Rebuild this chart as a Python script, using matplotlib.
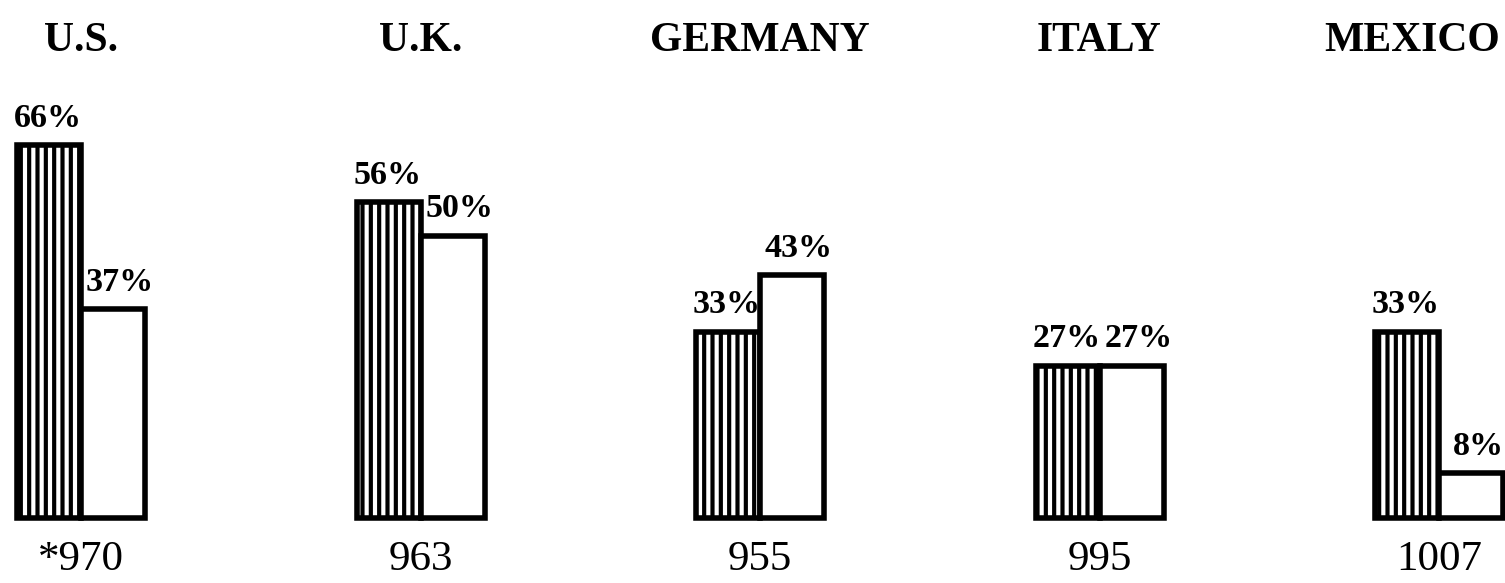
import matplotlib
matplotlib.use("Agg")
import matplotlib.pyplot as plt

# data
countries = ["U.S.", "U.K.", "GERMANY", "ITALY", "MEXICO"]
hatched_pct = [66, 56, 33, 27, 33]
white_pct = [37, 50, 43, 27, 8]
sample_sizes = ["*970", "963", "955", "995", "1007"]

plt.rcParams["hatch.linewidth"] = 3.0
plt.rcParams["font.family"] = ["Liberation Serif", "DejaVu Serif"]

fig = plt.figure(figsize=(15.05, 5.83), dpi=100)
ax = fig.add_axes([0, 0, 1, 1])
ax.set_xlim(0, 1505)
ax.set_ylim(-11.5, 91.7)
ax.axis("off")

step = 339.5
width = 64
left0 = 17
xs_h = [left0 + width / 2 + step * i for i in range(len(countries))]
xs_w = [x + width for x in xs_h]

ax.bar(xs_h, hatched_pct, width=width, facecolor="white", edgecolor="black",
       linewidth=4, hatch="||", joinstyle="miter")
ax.bar(xs_w, white_pct, width=width, facecolor="white", edgecolor="black",
       linewidth=4, joinstyle="miter")

for xh, xw, h, w in zip(xs_h, xs_w, hatched_pct, white_pct):
    ax.annotate(f"{h}%", (xh - 1, h), xytext=(0, 8), textcoords="offset points",
                ha="center", va="bottom", fontsize=24.5, fontweight="bold")
    ax.annotate(f"{w}%", (xw + 7, w), xytext=(0, 8), textcoords="offset points",
                ha="center", va="bottom", fontsize=24.5, fontweight="bold")

for i, (xh, name, n) in enumerate(zip(xs_h, countries, sample_sizes)):
    cx = xh + width / 2
    if i == len(countries) - 1:
        # last title would run off the right edge
        ax.text(1500, 84.5, name, ha="right", va="center", fontsize=30, fontweight="bold")
    else:
        ax.text(cx, 84.5, name, ha="center", va="center", fontsize=30, fontweight="bold")
    ax.text(cx, -7.4, n, ha="center", va="center", fontsize=31)

fig.savefig("out.png", dpi=100)
